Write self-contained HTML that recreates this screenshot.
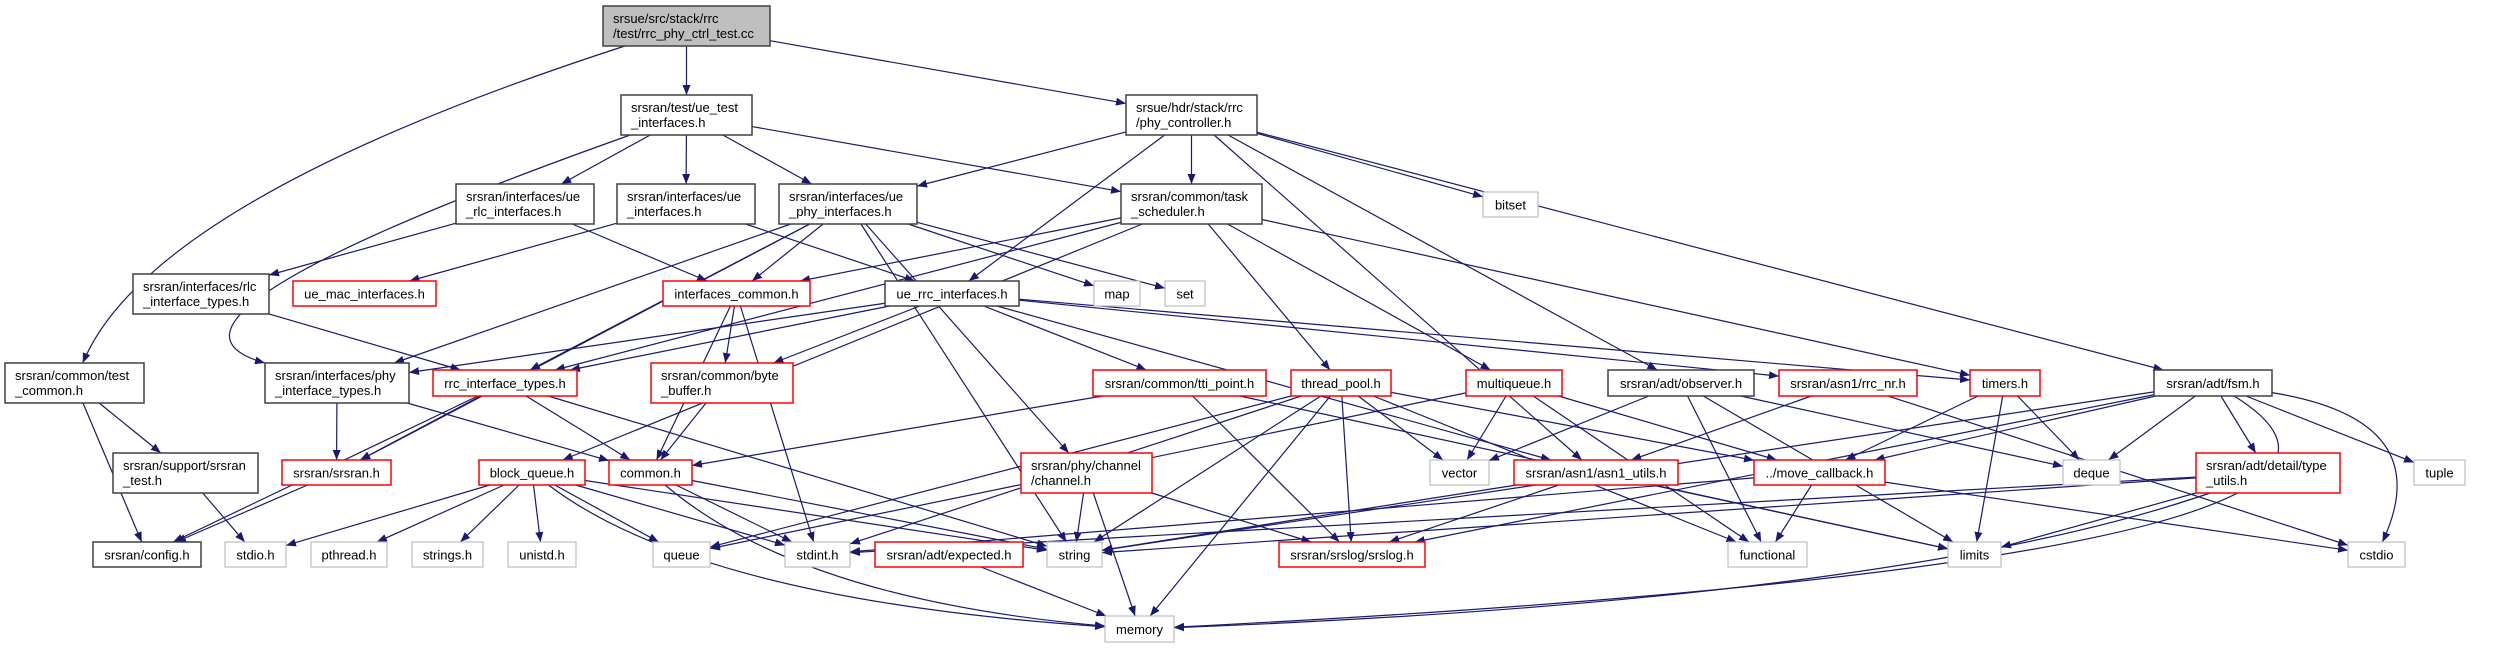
<!DOCTYPE html>
<html><head><meta charset="utf-8"><style>
html,body{margin:0;padding:0;background:#fff;}
svg{display:block;}
text{font-family:"Liberation Sans",sans-serif;font-size:13px;fill:#000;}
</style></head><body>
<svg id="g" width="2516" height="648" xmlns="http://www.w3.org/2000/svg">
<defs><marker id="a" markerWidth="10" markerHeight="8" refX="10" refY="4" orient="auto" markerUnits="userSpaceOnUse"><path d="M0,0 L10,4 L0,8 z" fill="#191970"/></marker></defs>
<g id="e"></g><g id="n"></g>
</svg>
<script>
var N={
root:[603,770,6,46,'g',['srsue/src/stack/rrc','/test/rrc_phy_ctrl_test.cc']],
uti:[621,752,95,135,'k',['srsran/test/ue_test','_interfaces.h']],
pc:[1126,1257,95,135,'k',['srsue/hdr/stack/rrc','/phy_controller.h']],
rlc:[456,594,184,224,'k',['srsran/interfaces/ue','_rlc_interfaces.h']],
uei:[617,755,184,224,'k',['srsran/interfaces/ue','_interfaces.h']],
uphy:[779,917,184,224,'k',['srsran/interfaces/ue','_phy_interfaces.h']],
ts:[1121,1262,184,224,'k',['srsran/common/task','_scheduler.h']],
bitset:[1483,1538,192,217,'l',['bitset']],
rlct:[133,269,274,314,'k',['srsran/interfaces/rlc','_interface_types.h']],
umac:[293,436,281,306,'r',['ue_mac_interfaces.h']],
ic:[663,810,281,306,'r',['interfaces_common.h']],
urrc:[885,1019,281,306,'k',['ue_rrc_interfaces.h']],
map:[1094,1140,281,306,'l',['map']],
set:[1165,1205,281,306,'l',['set']],
tc:[5,144,363,403,'k',['srsran/common/test','_common.h']],
pit:[265,409,363,403,'k',['srsran/interfaces/phy','_interface_types.h']],
rit:[433,577,370,396,'r',['rrc_interface_types.h']],
bb:[651,793,363,403,'r',['srsran/common/byte','_buffer.h']],
tti:[1093,1266,370,396,'r',['srsran/common/tti_point.h']],
tp:[1291,1391,370,396,'r',['thread_pool.h']],
mq:[1466,1562,370,396,'r',['multiqueue.h']],
obs:[1608,1754,370,396,'k',['srsran/adt/observer.h']],
rrcnr:[1779,1917,370,396,'r',['srsran/asn1/rrc_nr.h']],
timers:[1970,2040,370,396,'r',['timers.h']],
fsm:[2154,2272,370,396,'k',['srsran/adt/fsm.h']],
st:[113,258,453,493,'k',['srsran/support/srsran','_test.h']],
srsran:[282,391,460,485,'r',['srsran/srsran.h']],
bq:[479,585,460,485,'r',['block_queue.h']],
common:[609,692,460,485,'r',['common.h']],
channel:[1021,1152,453,493,'r',['srsran/phy/channel','/channel.h']],
vector:[1430,1489,460,485,'l',['vector']],
asn1u:[1514,1678,460,485,'r',['srsran/asn1/asn1_utils.h']],
mcb:[1754,1885,460,485,'r',['../move_callback.h']],
deque:[2063,2120,460,485,'l',['deque']],
tu:[2196,2340,453,493,'r',['srsran/adt/detail/type','_utils.h']],
tuple:[2414,2465,460,485,'l',['tuple']],
config:[93,201,542,567,'k',['srsran/config.h']],
stdio:[225,286,542,567,'l',['stdio.h']],
pthread:[311,387,542,567,'l',['pthread.h']],
strings:[412,483,542,567,'l',['strings.h']],
unistd:[508,576,542,567,'l',['unistd.h']],
queue:[653,710,542,567,'l',['queue']],
stdint:[785,850,542,567,'l',['stdint.h']],
expected:[875,1023,542,567,'r',['srsran/adt/expected.h']],
string:[1047,1102,542,567,'l',['string']],
srslog:[1279,1425,542,567,'r',['srsran/srslog/srslog.h']],
functional:[1728,1807,542,567,'l',['functional']],
limits:[1948,2001,542,567,'l',['limits']],
cstdio:[2348,2405,542,567,'l',['cstdio']],
memory:[1105,1174,616,642,'l',['memory']]
};
var CP={'root tc':[150,200],'uti pit':[110,320],'fsm memory':[2500,560],'fsm cstdio':[2440,420],'tu memory':[1900,600],'bq memory':[700,600],'common memory':[800,600]};
var E=`root uti;root pc;root tc;uti rlc;uti uei;uti uphy;uti ts;uti pit;pc uphy;pc ts;pc urrc;pc bitset;pc fsm;pc obs;pc asn1u;
ts ic;ts rit;ts tp;ts mq;ts timers;ts bq;uphy ic;uphy map;uphy set;uphy string;uphy channel;uphy pit;uphy srsran;uphy rit;
rlc rlct;rlc ic;uei umac;uei urrc;rlct rit;ic common;ic stdint;ic bb;urrc pit;urrc rit;urrc bb;urrc tti;urrc asn1u;urrc rrcnr;urrc timers;
pit srsran;pit common;rit srsran;rit common;rit config;rit string;bb common;tc config;tc st;st stdio;srsran config;
bq stdio;bq pthread;bq strings;bq unistd;bq queue;bq stdint;bq memory;bq string;common stdint;common memory;common string;
tti common;tti srslog;tti limits;tp string;tp memory;tp srslog;tp vector;tp mcb;tp stdint;tp queue;tp functional;
mq vector;mq mcb;mq functional;mq queue;obs vector;obs deque;obs limits;obs functional;rrcnr asn1u;rrcnr cstdio;
timers mcb;timers deque;timers limits;fsm mcb;fsm deque;fsm tu;fsm tuple;fsm cstdio;fsm srslog;fsm memory;fsm string;
tu limits;tu memory;tu stdint;tu string;channel string;channel memory;channel srslog;asn1u srslog;asn1u string;asn1u limits;
mcb functional;mcb cstdio;mcb stdint;expected memory`;
var ns='http://www.w3.org/2000/svg',ge=document.getElementById('e'),gn=document.getElementById('n');
function el(t,a,p){var e=document.createElementNS(ns,t);for(var k in a)e.setAttribute(k,a[k]);p.appendChild(e);return e;}
function clip(R,px,py){var cx=(R[0]+R[1])/2,cy=(R[2]+R[3])/2,dx=px-cx,dy=py-cy,hw=(R[1]-R[0])/2,hh=(R[3]-R[2])/2;
 var t=Math.min(dx?hw/Math.abs(dx):1e9,dy?hh/Math.abs(dy):1e9);return [cx+dx*t,cy+dy*t];}
E.replace(/\n/g,'').split(';').forEach(function(s){
 var k=s.trim();var p=k.split(' ');var A=N[p[0]],B=N[p[1]];if(!A||!B)return;
 var ac=[(A[0]+A[1])/2,(A[2]+A[3])/2],bc=[(B[0]+B[1])/2,(B[2]+B[3])/2];
 var c=CP[k],d;
 if(c){var s0=clip(A,c[0],c[1]),e0=clip(B,c[0],c[1]);
  d='M'+s0[0]+','+s0[1]+' Q'+c[0]+','+c[1]+' '+e0[0]+','+e0[1];}
 else{var s0=clip(A,bc[0],bc[1]),e0=clip(B,ac[0],ac[1]);d='M'+s0[0]+','+s0[1]+' L'+e0[0]+','+e0[1];}
 el('path',{d:d,fill:'none',stroke:'#191970','stroke-width':1.2,'marker-end':'url(#a)'},ge);
});
for(var k in N){var v=N[k];
 var st=v[4]=='g'||v[4]=='k'?'#404040':v[4]=='r'?'#ff0000':'#bfbfbf';
 el('rect',{x:v[0],y:v[2],width:v[1]-v[0],height:v[3]-v[2],fill:v[4]=='g'?'#bfbfbf':'#fff',stroke:st,'stroke-width':v[4]=='l'?1.2:1.5},gn);
 var L=v[5];
 if(L.length==1){var t=el('text',{x:(v[0]+v[1])/2,y:(v[2]+v[3])/2+5,'text-anchor':'middle'},gn);t.textContent=L[0];}
 else{for(var i=0;i<2;i++){var t=el('text',{x:v[0]+10,y:v[2]+17+i*15},gn);t.textContent=L[i];}}
}
</script>
</body></html>
